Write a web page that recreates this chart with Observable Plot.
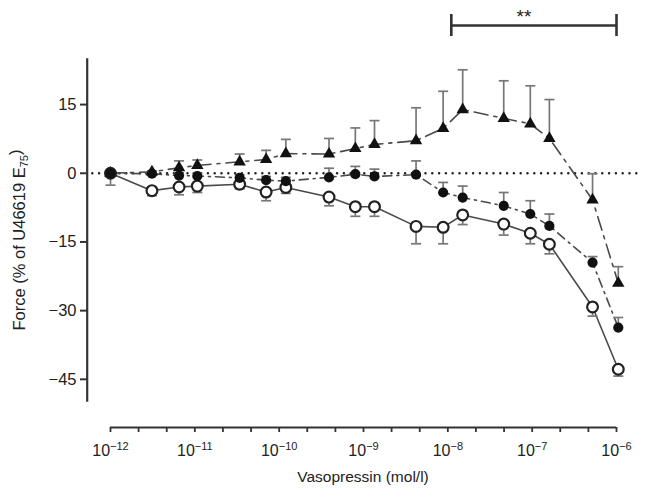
<!DOCTYPE html>
<html><head><meta charset="utf-8">
<script src="https://cdn.jsdelivr.net/npm/d3@7"></script>
<script src="https://cdn.jsdelivr.net/npm/@observablehq/plot@0.6"></script>
<style>body{margin:0;background:#fff}</style>
</head><body><div id="chart"></div>
<script>
// Vasopressin concentration (mol/l)
const concentrations = [1e-12, 3.1e-12, 6.5e-12, 1.07e-11, 3.4e-11, 7e-11, 1.2e-10, 3.9e-10, 8e-10, 1.35e-9, 4.2e-9, 8.8e-9, 1.5e-8, 4.6e-8, 9.5e-8, 1.6e-7, 5.2e-7, 1.05e-6];
// Open circles (error bars drawn downward)
const openMean = [0, -3.8, -3.0, -2.8, -2.4, -4.1, -3.1, -5.2, -7.3, -7.3, -11.6, -11.8, -9.1, -11.1, -13.1, -15.5, -29.2, -42.8];
const openSem  = [2.6, 1.1, 1.7, 1.4, 1.0, 1.9, 1.3, 1.9, 2.1, 2.1, 3.8, 3.6, 2.1, 2.4, 2.3, 2.1, 2.0, 1.5];
// Filled circles (error bars drawn upward)
const filledMean = [0, -0.1, -0.5, -0.6, -1.0, -1.5, -1.7, -0.9, -0.2, -0.7, -0.3, -4.2, -5.3, -7.1, -8.9, -11.5, -19.5, -33.7];
const filledSem  = [0, 0.6, 0.6, 0.6, 0.7, 0.8, 0.8, 2.0, 1.7, 1.6, 3.0, 2.2, 2.5, 2.9, 2.9, 2.6, 1.3, 2.2];
// Filled triangles (error bars drawn upward)
const triMean = [0, 0.3, 1.2, 1.7, 2.5, 3.0, 4.3, 4.2, 5.4, 6.3, 7.1, 9.8, 13.9, 12.0, 10.8, 7.6, -5.8, -24.0];
const triSem  = [0, 0, 1.5, 1.2, 1.7, 2.0, 3.1, 3.4, 4.5, 5.2, 7.2, 8.1, 8.7, 8.2, 8.3, 8.5, 5.7, 3.6];

const yTicks = [-45, -30, -15, 0, 15];
const xTickExponents = [-12, -11.667, -11.333, -11, -10.667, -10.333, -10, -9.667, -9.333, -9, -8.667, -8.333, -8, -7.667, -7.333, -7, -6.667, -6.333, -6];
const xLabelExponents = [-12, -11, -10, -9, -8, -7, -6];
const sigFrom = 1.1e-8, sigTo = 1e-6, sigLabel = "**";
const sigLabelAt = 8e-8;

const rows = (means, sems, dir, series) => concentrations.map((c, i) => ({
  series, x: c, y: means[i], sem: sems[i], yEnd: means[i] + dir * sems[i]
}));
const openRows = rows(openMean, openSem, -1, "open");
const filledRows = rows(filledMean, filledSem, 1, "filled");
const triRows = rows(triMean, triSem, 1, "tri");
const errRows = [...openRows, ...filledRows, ...triRows].filter(d => d.sem > 0);

const cap = { draw(ctx) { ctx.moveTo(-5, 0); ctx.lineTo(5, 0); } };
const lineColor = "#4a4a4a", errColor = "#777", axisColor = "#333";
const font = "'Liberation Sans', Arial, Helvetica, sans-serif";

const chart = Plot.plot({
  width: 657, height: 488,
  marginLeft: 87, marginRight: 20, marginTop: 0, marginBottom: 61,
  style: { fontFamily: font, fontSize: "15px", color: "#222", background: "#fff" },
  x: { type: "log", domain: [1e-12, 1e-6], range: [110, 616], axis: null },
  y: { domain: [-50, 25], range: [401.7, 58.3], axis: null },
  marks: [
    Plot.ruleY([0], { x1: 10 ** -12.21, x2: 10 ** -5.715, stroke: "#222", strokeWidth: 2.5, strokeDasharray: "0,6.8", strokeLinecap: "round" }),
    Plot.line(openRows, { x: "x", y: "y", stroke: lineColor, strokeWidth: 1.6 }),
    Plot.line(filledRows, { x: "x", y: "y", stroke: lineColor, strokeWidth: 1.6, strokeDasharray: "9,5,2,5" }),
    Plot.line(triRows, { x: "x", y: "y", stroke: lineColor, strokeWidth: 1.6, strokeDasharray: "14,6,3,6" }),
    Plot.ruleX(errRows, { x: "x", y1: "y", y2: "yEnd", stroke: errColor, strokeWidth: 1.7 }),
    Plot.dot(errRows, { x: "x", y: "yEnd", symbol: cap, stroke: errColor, strokeWidth: 1.7, r: 5 }),
    Plot.dot(triRows, { x: "x", y: "y", symbol: "triangle", fill: "#111", r: 4.6 }),
    Plot.dot(openRows, { x: "x", y: "y", symbol: "circle", fill: "#fff", stroke: "#222", strokeWidth: 2.2, r: 5.4 }),
    Plot.dot(filledRows, { x: "x", y: "y", symbol: "circle", fill: "#111", r: 5.1 }),
    // axes
    Plot.ruleX([1e-12], { y1: -50, y2: 25, dx: -23.3, stroke: axisColor, strokeWidth: 2.2 }),
    Plot.ruleY([-50], { x1: 1e-12, x2: 1e-6, dy: 25.3, stroke: axisColor, strokeWidth: 2.2 }),
    Plot.axisY({ ticks: yTicks, anchor: "left", tickSize: 7, tickPadding: 4, label: null, stroke: axisColor, strokeWidth: 2, fontSize: 16.5 }),
    Plot.axisX({ ticks: xTickExponents.map(e => 10 ** e), anchor: "bottom", tickSize: 5, tickPadding: 12, label: null, stroke: axisColor, strokeWidth: 1.8, fontSize: 16,
      tickFormat: d => { const e = Math.log10(d); const r = Math.round(e); return (Math.abs(e - r) < 1e-6 && xLabelExponents.includes(r)) ? `10^${r}` : ""; } }),
    // significance bracket
    Plot.ruleY([32.27], { x1: sigFrom, x2: sigTo, stroke: axisColor, strokeWidth: 2.4 }),
    Plot.ruleX([sigFrom, sigTo], { y1: 29.86, y2: 34.67, stroke: axisColor, strokeWidth: 2.6 }),
    Plot.text([sigLabel], { x: sigLabelAt, y: 32.9, text: d => d, fontSize: 19, lineAnchor: "bottom", fill: "#222" })
  ]
});
document.getElementById("chart").appendChild(chart);

const svg = d3.select(chart);
// superscript tick labels
svg.selectAll("text").each(function () {
  const t = d3.select(this);
  const m = /^10\^(-?\d+)$/.exec(this.textContent);
  if (!m) return;
  t.text(null);
  t.append("tspan").text("10");
  t.append("tspan").attr("dy", "-0.55em").attr("font-size", "11px").text("\u2212" + m[1].replace("-", ""));
});
// axis titles
svg.append("text").attr("x", 363).attr("y", 482).attr("text-anchor", "middle")
  .attr("font-family", font).attr("font-size", "15.5px").attr("fill", "#222").text("Vasopressin (mol/l)");
const yl = svg.append("text").attr("transform", "translate(25,240) rotate(-90)").attr("text-anchor", "middle")
  .attr("font-family", font).attr("font-size", "16.5px").attr("fill", "#222");
yl.append("tspan").text("Force (% of U46619 E");
yl.append("tspan").attr("dy", "0.3em").attr("font-size", "11px").text("75");
yl.append("tspan").attr("dy", "-0.45em").text(")");
</script></body></html>
